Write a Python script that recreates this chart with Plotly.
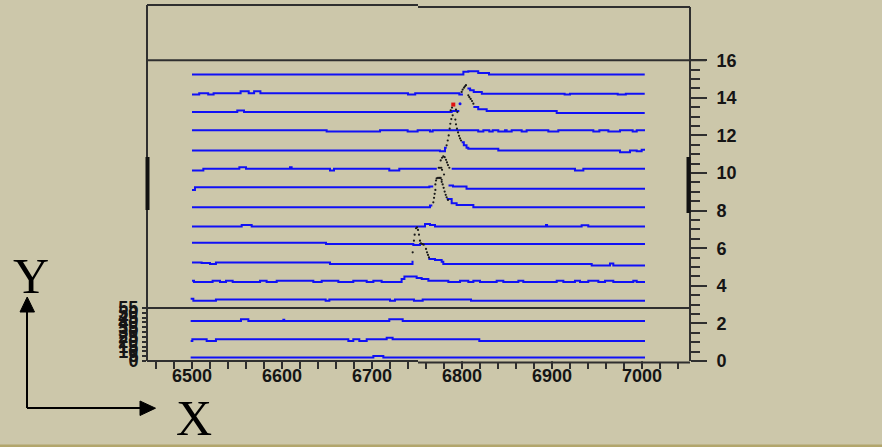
import plotly.graph_objects as go

# ---------------- data ----------------
x15 = [6500, 6801.5, 6807, 6818, 6830, 7003]
y15 = [15.24, 15.38, 15.41, 15.32, 15.24, 15.24]

x14 = [6500, 6508, 6518, 6524, 6554, 6563, 6569, 6576, 6740, 6748, 6797, 6801, None,
       6806, 6809, 6813, 6822, 6914, 6920, 6973, 6982, 7003]
y14 = [14.17, 14.24, 14.17, 14.24, 14.35, 14.24, 14.35, 14.24, 14.17, 14.24, 14.17, 14.17, None,
       14.49, 14.40, 14.31, 14.22, 14.17, 14.22, 14.17, 14.22, 14.22]

x13 = [6500, 6550.3, 6557.8, 6788.5, 6797, None, 6812.6, 6818, 6827.4, 6905.2, 7003]
y13 = [13.24, 13.33, 13.24, 13.30, 13.30, None, 13.51, 13.39, 13.30, 13.19, 13.19]

x12 = [6500, 6649.6, 6708.9, 6739.6, 6750.7, 6764.4, 6767.4, 6818, 6823.7, 6830.3, 6834.1,
       6840.3, 6847.8, 6849.6, 6855.2, 6866.3, 6871.8, 6895.9, 6907, 6945.9, 6952.6,
       6962.6, 6975.5, 6989.6, 6994.1, 7003.3]
y12 = [12.27, 12.21, 12.27, 12.21, 12.27, 12.21, 12.27, 12.21, 12.27, 12.21, 12.27,
       12.21, 12.27, 12.21, 12.27, 12.21, 12.27, 12.21, 12.27, 12.21, 12.27,
       12.21, 12.27, 12.21, 12.27, 12.27]

x11 = [6500, 6775.5, 6781.1, 6783, None, 6799.6, 6802, 6805, 6807, 6840.3, 6975.5, 6986.6,
       6994.1, 6999.6, 7003.3]
y11 = [11.20, 11.16, 11.34, 11.34, None, 11.64, 11.47, 11.34, 11.29, 11.20, 11.11, 11.20,
       11.16, 11.24, 11.24]

x10 = [6500, 6512.6, 6552.6, 6560, 6608.9, 6610.7, 6653.3, 6657.8, 6719.2, 6730.3, 6772,
       None, 6788.5, 6925.5, 6934.8, 7003.3]
y10 = [10.13, 10.22, 10.31, 10.22, 10.31, 10.22, 10.13, 10.22, 10.13, 10.22, 10.22,
       None, 10.22, 10.13, 10.22, 10.22]

x9 = [6500, 6503.3, 6763.7, 6768, None, 6785, 6790, 6805, 7003.3]
y9 = [9.10, 9.24, 9.28, 9.28, None, 9.33, 9.28, 9.16, 9.16]

x8 = [6500, 6764.4, 6767, None, 6783, 6788.5, 6794, 6812.6, 7003.3]
y8 = [8.18, 8.27, 8.27, None, 8.62, 8.39, 8.30, 8.18, 8.18]

x7 = [6500, 6555.2, 6566.3, 6758.9, 6764.4, 6770, 6893.3, 6894.5, 6932.9, 6940.3, 7003.3]
y7 = [7.15, 7.24, 7.15, 7.29, 7.24, 7.15, 7.24, 7.15, 7.22, 7.15, 7.15]

x6 = [6500, 6648.9, 6745.9, 6753.3, 7003.3]
y6 = [6.29, 6.22, 6.17, 6.22, 6.22]

x5 = [6500, 6510.7, 6520, 6526.6, 6653.3, 6742.4, 6745, None, 6762.6, 6770, 6777.4,
      6779.2, 6944.1, 6964.4, 6968.1, 7003.3]
y5 = [5.24, 5.21, 5.16, 5.24, 5.16, 5.16, 5.33, None, 5.42, 5.37, 5.28,
      5.16, 5.08, 5.19, 5.08, 5.08]

x4 = [6500, 6502.2, 6522.9, 6531.1, 6537.8, 6545.2, 6575.6, 6582.9, 6594.1, 6634.8,
      6644.1, 6662.6, 6679.2, 6694.1, 6701.5, 6710.7, 6732.9, 6736, 6749.6, 6755.2,
      6762.6, 6784.8, 6797.8, 6807, 6812.6, 6820, 6838.5, 6845.9, 6862.6, 6868.1,
      6905.2, 6912.6, 6925.5, 6931.1, 6940.3, 6951.5, 6958.9, 6968.1, 6990.3, 6994.1, 7003.3]
y4 = [4.27, 4.20, 4.27, 4.20, 4.27, 4.20, 4.27, 4.20, 4.27, 4.20,
      4.27, 4.20, 4.27, 4.20, 4.27, 4.20, 4.36, 4.50, 4.41, 4.36,
      4.27, 4.20, 4.27, 4.20, 4.27, 4.20, 4.27, 4.20, 4.27, 4.20,
      4.27, 4.20, 4.27, 4.20, 4.27, 4.20, 4.27, 4.20, 4.27, 4.20, 4.20]

x3 = [6498.5, 6501.5, 6526.6, 6648.5, 6652.6, 6720, 6725.5, 6746.6, 6756.3, 6810, 7003.3]
y3 = [3.31, 3.20, 3.27, 3.20, 3.27, 3.20, 3.27, 3.20, 3.27, 3.20, 3.20]

x2 = [6498.5, 6554.4, 6562.6, 6601.5, 6602.5, 6719.2, 6734.1, 7003.3]
y2 = [2.13, 2.22, 2.13, 2.20, 2.13, 2.22, 2.13, 2.13]

x1 = [6498.5, 6500.4, 6516.3, 6526.6, 6673.7, 6679.2, 6685.9, 6694.1, 6716.3, 6722.9,
      6819.2, 7003.3]
y1 = [1.07, 1.16, 1.07, 1.16, 1.07, 1.16, 1.07, 1.16, 1.24, 1.16, 1.07, 1.07]

x0 = [6498.5, 6701.5, 6712.6, 7003.3]
y0 = [0.18, 0.27, 0.18, 0.18]

# black dots on the steep flanks of the peaks
dots_x = [6745.2, 6746.6, 6747.4, 6748.9, 6750, 6751.1, 6752.2, 6753.3,
          6754.4, 6755.9, 6757.4, 6760, 6761.1, 6762.2, 6763.3,
          6768.1, 6768.9, 6769.6, 6770.4, 6770.4, 6771.1, 6771.8, 6773.3, 6774.8, 6776.3,
          6777.4, 6777.4, 6774.1, 6775.5, 6777, 6777.8, 6780, 6776.3,
          6777.8, 6779.2, 6780.7, 6782.2, 6783.3, 6784.4, 6785.9, 6778.5, 6779.6, 6780.7,
          6781.9, 6782.9, 6784.4,
          6782.9, 6784.1, 6785.2, 6786.3, 6787.0, 6788.1, 6789.6, 6792.6, 6793.3,
          6794.4, 6795.6, 6796.7, 6797.8, 6798.9, 6787.4, 6788.9, 6793.3, 6794.8,
          6799.6, 6800.7, 6802.2, 6803.3, 6804.4, 6807.0, 6808.1, 6809.6, 6811.1, 6812.6]
dots_y = [5.78, 6.40, 6.72, 7.06, 7.11, 6.97, 6.72, 6.40,
          6.26, 6.22, 6.19, 5.96, 5.78, 5.64, 5.51,
          8.44, 8.68, 8.89, 9.10, 9.39, 9.60, 9.71, 9.74, 9.74, 9.74,
          9.64, 9.53, 10.28, 10.28, 10.28, 10.17, 9.92, 10.67,
          10.81, 10.88, 10.84, 10.70, 10.56, 10.42, 10.28, 9.39, 9.21, 9.01,
          8.84, 8.71, 8.57,
          11.47, 11.73, 12.00, 12.36, 12.62, 12.87, 13.07, 12.84, 12.59,
          12.36, 12.16, 11.98, 11.84, 11.73, 13.33, 13.48, 13.37, 13.24,
          14.31, 14.44, 14.54, 14.61, 14.67, 14.13, 14.04, 13.94, 13.83, 13.69]
red_x = [6790.3]
red_y = [13.64]
bluedot_x = [6797.8]
bluedot_y = [13.69]

x_ticks = [6500, 6600, 6700, 6800, 6900, 7000]
x_ticktext = ["6500", "6600", "6700", "6800", "6900", "7000"]
y_ticks = [0, 2, 4, 6, 8, 10, 12, 14, 16]
y_ticktext = ["0", "2", "4", "6", "8", "10", "12", "14", "16"]
y_minor = [0.5, 1, 1.5, 2.5, 3, 3.5, 4.5, 5, 5.5, 6.5, 7, 7.5, 8.5, 9, 9.5, 10.5, 11, 11.5,
           12.5, 13, 13.5, 14.5, 15, 15.5]
left_ticks = [0, 5, 10, 15, 20, 25, 30, 35, 40, 45, 50, 55]
left_ticktext = ["0", "5", "10", "15", "20", "25", "30", "35", "40", "45", "50", "55"]

# ---------------- figure ----------------
W, H = 882, 447
L, R, T, B = 147, 690, 5, 361
PW, PH = R - L, B - T
BG = "#ccc7aa"
FRAME = "#2f2f2f"
BLUE = "#1010f5"


def px(xp):
    return (xp - L) / PW


def py(yp):
    return (B - yp) / PH


fig = go.Figure()
traces = [(x0, y0), (x1, y1), (x2, y2), (x3, y3), (x4, y4), (x5, y5), (x6, y6), (x7, y7),
          (x8, y8), (x9, y9), (x10, y10), (x11, y11), (x12, y12), (x13, y13), (x14, y14),
          (x15, y15)]
for xs, ys in traces:
    fig.add_trace(go.Scatter(x=xs, y=ys, mode="lines", line=dict(color=BLUE, width=2, shape="hv"),
                             hoverinfo="skip", showlegend=False))
fig.add_trace(go.Scatter(x=dots_x, y=dots_y, mode="markers",
                         marker=dict(color="#1a1a1a", size=2.2, line=dict(width=0)),
                         hoverinfo="skip", showlegend=False))
fig.add_trace(go.Scatter(x=red_x, y=red_y, mode="markers",
                         marker=dict(color="#e01010", size=4, symbol="square", line=dict(width=0)),
                         hoverinfo="skip", showlegend=False))
fig.add_trace(go.Scatter(x=bluedot_x, y=bluedot_y, mode="markers",
                         marker=dict(color=BLUE, size=3, line=dict(width=0)),
                         hoverinfo="skip", showlegend=False))
# invisible trace to show the small left axis
fig.add_trace(go.Scatter(x=[6450], y=[0], yaxis="y2", mode="markers",
                         marker=dict(opacity=0), hoverinfo="skip", showlegend=False))

tickfont = dict(family="Liberation Sans", size=18, color="#151515", weight="bold")

fig.update_layout(
    width=W, height=H,
    margin=dict(l=L, r=W - R, t=T, b=H - B, pad=0),
    paper_bgcolor=BG, plot_bgcolor="rgba(0,0,0,0)",
    hovermode=False,
    xaxis=dict(range=[6450, 7053.3], showgrid=False, zeroline=False, showline=False,
               automargin=False,
               tickmode="array", tickvals=x_ticks, ticktext=x_ticktext,
               ticks="", tickfont=tickfont, ticklabelstandoff=2,
               minor=dict(dtick=20, tick0=6460, ticks="outside", ticklen=7, tickwidth=1.5,
                          tickcolor=FRAME)),
    yaxis=dict(range=[0, PH / 18.8], side="right", showgrid=False, zeroline=False,
               showline=False, automargin=False,
               tickmode="array", tickvals=y_ticks, ticktext=y_ticktext,
               ticks="outside", ticklen=16, tickwidth=2, tickcolor=FRAME, tickfont=tickfont,
               ticklabelstandoff=6,
               minor=dict(tickmode="array", tickvals=y_minor, ticks="outside", ticklen=9,
                          tickwidth=2, tickcolor=FRAME)),
    yaxis2=dict(domain=[0, py(308)], range=[0, 55], anchor="x", side="left",
                showgrid=False, zeroline=False, showline=False, automargin=False,
                tickmode="array", tickvals=left_ticks, ticktext=left_ticktext,
                ticks="outside", ticklen=4, tickwidth=1.5, tickcolor=FRAME,
                tickfont=dict(family="Liberation Sans", size=18, color="#151515", weight="bold")),
)

shapes = []
ln = dict(color=FRAME, width=2)
# major x ticks (same look as the minor ones)
for v in x_ticks:
    shapes.append(dict(type="line", xref="x", yref="paper", x0=v, x1=v, y0=0, y1=py(368),
                       line=dict(color=FRAME, width=1.5)))
# frame
shapes.append(dict(type="line", xref="paper", yref="paper", x0=0, x1=0, y0=0, y1=1, line=ln))
shapes.append(dict(type="line", xref="paper", yref="paper", x0=0, x1=px(418), y0=1, y1=1, line=ln))
shapes.append(dict(type="line", xref="paper", yref="paper", x0=px(418), x1=1, y0=py(7), y1=py(7), line=ln))
shapes.append(dict(type="line", xref="paper", yref="paper", x0=1, x1=1, y0=0, y1=py(7), line=ln))
shapes.append(dict(type="line", xref="paper", yref="paper", x0=0, x1=px(418), y0=0, y1=0, line=ln))
shapes.append(dict(type="line", xref="paper", yref="paper", x0=px(418), x1=1, y0=py(362.5), y1=py(362.5), line=ln))
# line at y=16 and lower box line
shapes.append(dict(type="line", xref="paper", yref="y", x0=0, x1=px(706), y0=16, y1=16, line=ln))
shapes.append(dict(type="line", xref="paper", yref="paper", x0=px(143), x1=1, y0=py(308), y1=py(308), line=ln))
# thick segments on left and right edges
shapes.append(dict(type="line", xref="paper", yref="paper", x0=px(147.5), x1=px(147.5),
                   y0=py(210), y1=py(157), line=dict(color="#111", width=4)))
shapes.append(dict(type="line", xref="paper", yref="paper", x0=px(688.5), x1=px(688.5),
                   y0=py(213), y1=py(157), line=dict(color="#111", width=4)))
# X / Y arrows
arr = dict(color="#000", width=2)
shapes.append(dict(type="line", xref="paper", yref="paper", x0=px(27), x1=px(27),
                   y0=py(408), y1=py(310), line=arr))
shapes.append(dict(type="line", xref="paper", yref="paper", x0=px(27), x1=px(142),
                   y0=py(408), y1=py(408), line=arr))
shapes.append(dict(type="path", xref="paper", yref="paper",
                   path=f"M {px(20)} {py(312)} L {px(34.5)} {py(312)} L {px(27.2)} {py(297)} Z",
                   fillcolor="#000", line=dict(color="#000", width=1)))
shapes.append(dict(type="path", xref="paper", yref="paper",
                   path=f"M {px(140)} {py(401)} L {px(140)} {py(415.5)} L {px(155.5)} {py(408.2)} Z",
                   fillcolor="#000", line=dict(color="#000", width=1)))
# bottom border strip
shapes.append(dict(type="rect", xref="paper", yref="paper", x0=px(0), x1=px(882),
                   y0=py(447), y1=py(444.5), fillcolor="#b2a66c", line=dict(width=0)))
fig.update_layout(shapes=shapes)

fig.add_annotation(text="Y", xref="paper", yref="paper", x=px(31), y=py(276),
                   xanchor="center", yanchor="middle", showarrow=False,
                   font=dict(family="Liberation Serif", size=50, color="#000"))
fig.add_annotation(text="X", xref="paper", yref="paper", x=px(194), y=py(418),
                   xanchor="center", yanchor="middle", showarrow=False,
                   font=dict(family="Liberation Serif", size=50, color="#000"))

fig.write_html("out.html", config={"displayModeBar": False})
